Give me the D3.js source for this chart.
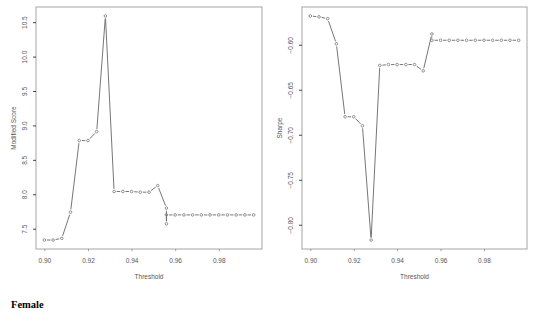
<!DOCTYPE html>
<html>
<head>
<meta charset="utf-8">
<script src="https://cdn.jsdelivr.net/npm/d3@7"></script>
<style>
  body { margin: 0; background: #fff; }
  svg { display: block; }
  .tick text, .lab { font-family: "Liberation Sans", Arial, sans-serif; font-size: 6.5px; fill: #555; }
</style>
</head>
<body>
<div id="chart"></div>
<script>
// Seuils (axe x) et valeurs
let thrLeft = [0.900, 0.904, 0.908, 0.912, 0.916, 0.920, 0.924, 0.928, 0.932, 0.936,
               0.940, 0.944, 0.948, 0.952, 0.956, 0.956, 0.956, 0.960, 0.964, 0.968,
               0.972, 0.976, 0.980, 0.984, 0.988, 0.992, 0.996];
let scoreLeft = [7.335, 7.335, 7.36, 7.74, 8.78, 8.78, 8.91, 10.59, 8.04, 8.04,
                 8.04, 8.03, 8.03, 8.126, 7.80, 7.57, 7.70, 7.70, 7.70, 7.70,
                 7.70, 7.70, 7.70, 7.70, 7.70, 7.70, 7.70];

let thrRight = [0.900, 0.904, 0.908, 0.912, 0.916, 0.920, 0.924, 0.928, 0.932, 0.936,
                0.940, 0.944, 0.948, 0.952, 0.956, 0.956, 0.960, 0.964, 0.968, 0.972,
                0.976, 0.980, 0.984, 0.988, 0.992, 0.996];
let sharpeRight = [-0.568, -0.569, -0.571, -0.599, -0.680, -0.680, -0.690, -0.817, -0.623, -0.622,
                   -0.622, -0.622, -0.622, -0.629, -0.588, -0.595, -0.595, -0.595, -0.595, -0.595,
                   -0.595, -0.595, -0.595, -0.595, -0.595, -0.595];

let xTicks = [0.90, 0.92, 0.94, 0.96, 0.98];
let yTicksLeft = [7.5, 8.0, 8.5, 9.0, 9.5, 10.0, 10.5];
let yTicksRight = [-0.80, -0.75, -0.70, -0.65, -0.60];

let svg = d3.select("#chart")
            .append("svg")
            .attr("width", 538)
            .attr("height", 316);

// étendue avec 4% de marge, comme R
function padded(vals) {
  let [lo, hi] = d3.extent(vals);
  let p = (hi - lo) * 0.04;
  return [lo - p, hi + p];
}

function panel(box, xs, ys, yTicks, yFmt, yLabel) {
  let xScale = d3.scaleLinear().domain(padded(xs)).range([box.left, box.right]);
  let yScale = d3.scaleLinear().domain(padded(ys)).range([box.bottom, box.top]);

  let g = svg.append("g");

  // cadre
  g.append("rect")
   .attr("x", box.left)
   .attr("y", box.top)
   .attr("width", box.right - box.left)
   .attr("height", box.bottom - box.top)
   .attr("fill", "none")
   .attr("stroke", "#a5a5a5")
   .attr("stroke-width", 1);

  // axes
  let xAxis = g.append("g")
               .attr("transform", `translate(0,${box.bottom})`)
               .call(d3.axisBottom(xScale).tickValues(xTicks).tickFormat(d3.format(".2f"))
                       .tickSize(2).tickPadding(7));
  xAxis.select(".domain").remove();
  xAxis.selectAll("line").attr("stroke", "#999");

  let yAxis = g.append("g")
               .attr("transform", `translate(${box.left},0)`)
               .call(d3.axisLeft(yScale).tickValues(yTicks).tickFormat(yFmt).tickSize(3));
  yAxis.select(".domain").remove();
  yAxis.selectAll("line").attr("stroke", "#444");
  yAxis.selectAll("text")
       .attr("text-anchor", "middle")
       .attr("x", 0)
       .attr("dy", 0)
       .attr("transform", d => `translate(-9,0) rotate(-90)`);

  // libellés
  g.append("text")
   .attr("class", "lab")
   .attr("text-anchor", "middle")
   .attr("x", (box.left + box.right) / 2)
   .attr("y", box.bottom + 30)
   .text("Threshold");

  g.append("text")
   .attr("class", "lab")
   .attr("text-anchor", "middle")
   .attr("transform", `translate(${box.left - 20},${(box.top + box.bottom) / 2}) rotate(-90)`)
   .text(yLabel);

  // points reliés, type "b" de R : segments raccourcis autour des cercles
  let pts = xs.map((x, i) => [xScale(x), yScale(ys[i])]);
  let gap = 2.6;
  let segs = [];
  for (let i = 0; i < pts.length - 1; i++) {
    let [x1, y1] = pts[i], [x2, y2] = pts[i + 1];
    let len = Math.hypot(x2 - x1, y2 - y1);
    if (len > 2 * gap) {
      let ux = (x2 - x1) / len, uy = (y2 - y1) / len;
      segs.push([x1 + ux * gap, y1 + uy * gap, x2 - ux * gap, y2 - uy * gap]);
    }
  }
  g.append("g")
   .selectAll("line")
   .data(segs)
   .enter()
   .append("line")
   .attr("x1", d => d[0]).attr("y1", d => d[1])
   .attr("x2", d => d[2]).attr("y2", d => d[3])
   .attr("stroke", "#666")
   .attr("stroke-width", 0.9);

  g.append("g")
   .selectAll("circle")
   .data(pts)
   .enter()
   .append("circle")
   .attr("cx", d => d[0])
   .attr("cy", d => d[1])
   .attr("r", 1.3)
   .attr("fill", "none")
   .attr("stroke", "#777")
   .attr("stroke-width", 0.8);
}

panel({left: 36, right: 262, top: 7, bottom: 249}, thrLeft, scoreLeft,
      yTicksLeft, d3.format(".1f"), "Modified Score");
panel({left: 302, right: 527, top: 7, bottom: 249}, thrRight, sharpeRight,
      yTicksRight, d3.format(".2f"), "Sharpe");

svg.append("text")
   .attr("x", 11)
   .attr("y", 308)
   .style("font-family", "'Liberation Serif', 'Times New Roman', serif")
   .style("font-weight", "bold")
   .style("font-size", "10.5px")
   .text("Female");
</script>
</body>
</html>
